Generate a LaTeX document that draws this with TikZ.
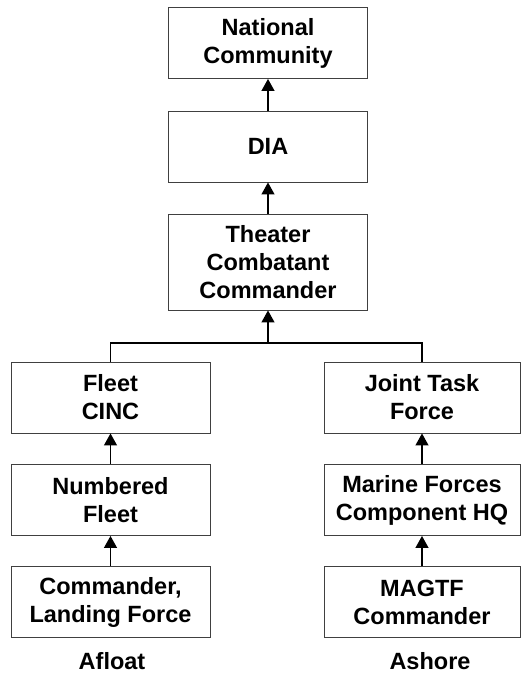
\documentclass[tikz,border=0pt]{standalone}
\usepackage{fontspec}
\setmainfont{Liberation Sans}
\usetikzlibrary{arrows.meta}
\begin{document}
\begin{tikzpicture}[x=1pt,y=-1pt,
	every node/.style={align=center,font=\fontsize{23.5}{28}\selectfont\bfseries},
	unit/.style={draw=black!75,line width=0.9pt,minimum width=199pt,minimum height=71pt,inner sep=2pt},
	side/.style={anchor=base,inner sep=0pt},
	up/.style={line width=1.3pt,-{Triangle[width=13pt,length=12pt]}}]
\useasboundingbox (0,0) rectangle (521,673);
\node[unit] (nat) at (268,43) {National\\Community};
\node[unit] (dia) at (268,146.5) {DIA};
\node[unit,minimum height=96pt] (thr) at (268,262) {Theater\\Combatant\\Commander};
\node[unit] (fleet) at (110.5,397.5) {Fleet\\CINC};
\node[unit] (num) at (110.5,500) {Numbered\\Fleet};
\node[unit] (clf) at (110.5,602) {Commander,\\Landing Force};
\node[unit,minimum width=196pt] (jtf) at (422,397.5) {Joint Task\\Force};
\node[unit,minimum width=196pt] (mar) at (422,500) {Marine Forces\\Component HQ};
\node[unit,minimum width=196pt] (mag) at (422,602) {MAGTF\\Commander};
\node[side] (afloat) at (112,669) {Afloat};
\node[side] (ashore) at (430,669) {Ashore};
\coordinate (jn) at (268,343);
\draw[up] (dia) -- (nat);
\draw[up] (thr) -- (dia);
\draw[line width=1.3pt] (fleet.north) |- (jn) -| (jtf.north);
\draw[up] (jn) -- (thr);
\draw[up] (num) -- (fleet);
\draw[up] (clf) -- (num);
\draw[up] (mar) -- (jtf);
\draw[up] (mag) -- (mar);
\end{tikzpicture}
\end{document}
